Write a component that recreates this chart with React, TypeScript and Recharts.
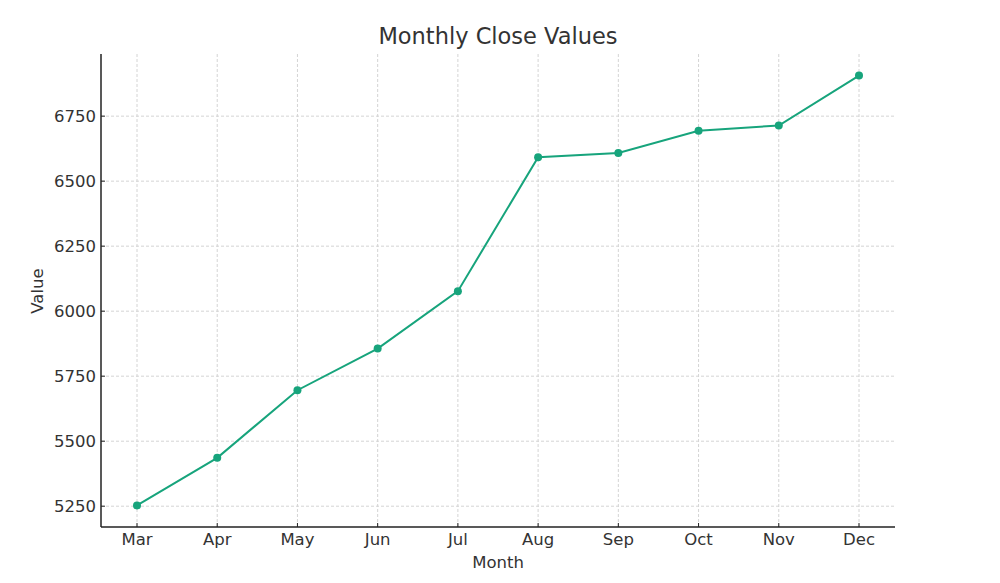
import { LineChart, Line, XAxis, YAxis, CartesianGrid } from "recharts"

const months = ["Mar", "Apr", "May", "Jun", "Jul", "Aug", "Sep", "Oct", "Nov", "Dec"]
const closeValues = [5253, 5436, 5696, 5856, 6077, 6592, 6608, 6694, 6714, 6906]
const valueTicks = [5250, 5500, 5750, 6000, 6250, 6500, 6750]

const lineColor = "#17a47c"
const textColor = "#333333"
const font = "'DejaVu Sans', sans-serif"

export default function App() {
  const data = months.map((m, i) => ({ month: m, value: closeValues[i] }))

  return (
    <div style={{ position: "absolute", left: 0, top: 0, width: 1000, height: 583, background: "#fff" }}>
      <LineChart
        width={1000}
        height={583}
        data={data}
        margin={{ top: 54, right: 105, bottom: 0, left: 0 }}
      >
        <CartesianGrid stroke="#d4d4d4" strokeDasharray="3 2" strokeWidth={1} syncWithTicks />
        <XAxis
          dataKey="month"
          height={56}
          padding={{ left: 36, right: 36 }}
          axisLine={{ stroke: "#222", strokeWidth: 1.5 }}
          tickLine={{ stroke: "#222" }}
          tickSize={-4}
          tickMargin={10}
          tick={{ fill: textColor, fontSize: 16.5, fontFamily: font }}
        />
        <YAxis
          type="number"
          width={101}
          domain={[5170, 6989]}
          ticks={valueTicks}
          axisLine={{ stroke: "#222", strokeWidth: 1.5 }}
          tickLine={{ stroke: "#222" }}
          tickSize={-4}
          tickMargin={9}
          tick={{ fill: textColor, fontSize: 16.5, fontFamily: font }}
        />
        <Line
          type="linear"
          dataKey="value"
          stroke={lineColor}
          strokeWidth={2}
          dot={{ r: 4, fill: lineColor, stroke: lineColor, strokeWidth: 0 }}
          activeDot={false}
          isAnimationActive={false}
        />
      </LineChart>

      {/* titles drawn on top of the chart */}
      <svg
        width={1000}
        height={583}
        style={{ position: "absolute", left: 0, top: 0, pointerEvents: "none" }}
      >
        <text x={498} y={44} textAnchor="middle" fontFamily={font} fontSize={22.5} fill={textColor}>
          Monthly Close Values
        </text>
        <text x={498} y={568} textAnchor="middle" fontFamily={font} fontSize={16.5} fill={textColor}>
          Month
        </text>
        <text
          x={43}
          y={291}
          textAnchor="middle"
          fontFamily={font}
          fontSize={16.5}
          fill={textColor}
          transform="rotate(-90 43 291)"
        >
          Value
        </text>
      </svg>
    </div>
  )
}
